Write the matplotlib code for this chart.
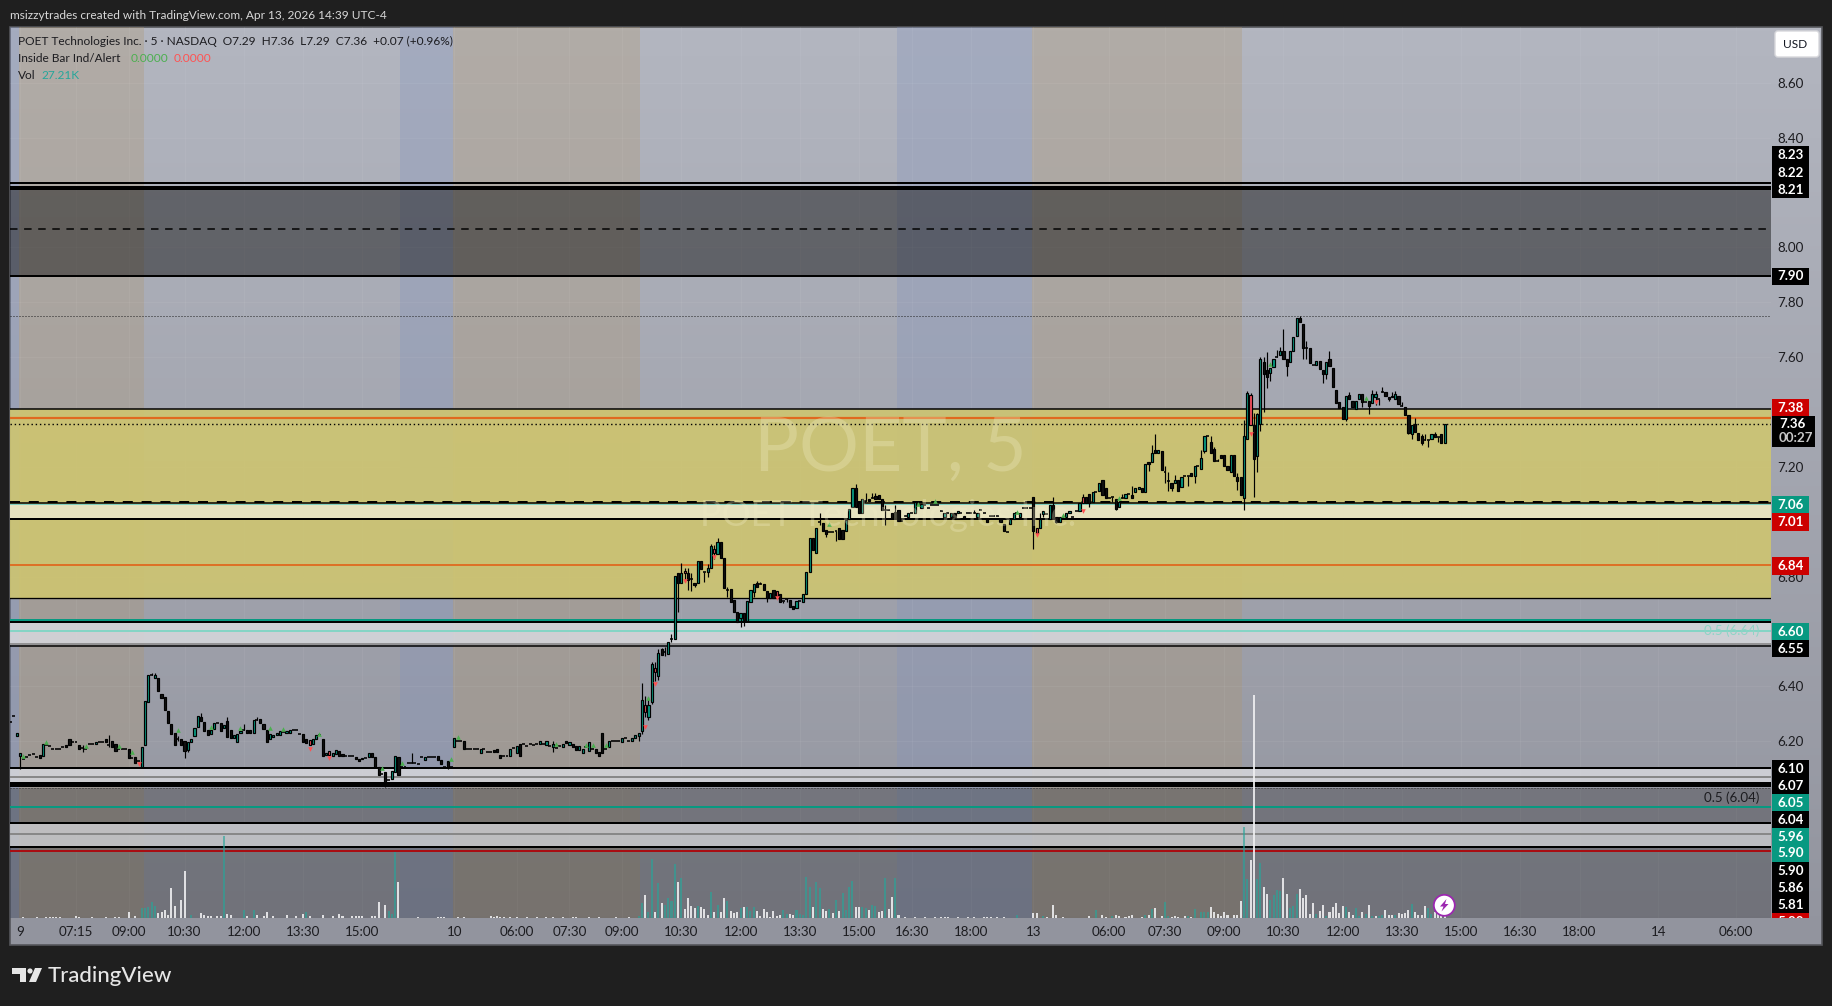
import numpy as np
import matplotlib
matplotlib.use("Agg")
import matplotlib.pyplot as plt
from matplotlib.patches import Rectangle, FancyBboxPatch, Circle, Polygon

plt.rcParams['font.family'] = ['Lato', 'DejaVu Sans']

# ---------- candle bodies: (open, close), a plain number is a doji dash ----------
session_apr9 = [6.269, 6.291, (6.220, 6.230), (6.146, 6.158), 6.134, 6.141, 6.149, 6.155, 6.141, (6.149, 6.140),
    (6.146, 6.189), 6.185, 6.184, 6.170, 6.170, 6.172, 6.180, (6.187, 6.180), (6.207, 6.187), 6.198,
    6.199, (6.187, 6.170), 6.174, 6.170, 6.189, 6.189, (6.190, 6.198), 6.198, 6.198, (6.210, 6.198),
    6.186, (6.200, 6.180), (6.190, 6.166), 6.172, 6.172, 6.170, (6.170, 6.138), 6.138, (6.144, 6.119), 6.129,
    (6.107, 6.180), (6.187, 6.348), (6.342, 6.441), 6.441, (6.429, 6.441), (6.429, 6.383), (6.371, 6.356), (6.360, 6.314), (6.310, 6.268), (6.262, 6.226),
    (6.229, 6.186), 6.210, (6.209, 6.186), (6.202, 6.166), (6.168, 6.198), (6.198, 6.210), (6.220, 6.249), (6.253, 6.293), (6.289, 6.274), (6.269, 6.238),
    (6.242, 6.223), (6.225, 6.240), (6.243, 6.265), 6.265, (6.265, 6.238), (6.249, 6.259), (6.275, 6.214), (6.240, 6.213), (6.213, 6.221), (6.198, 6.228),
    (6.229, 6.238), 6.241, (6.240, 6.229), (6.240, 6.229), (6.229, 6.277), 6.277, (6.280, 6.265), (6.262, 6.243), (6.241, 6.198), (6.210, 6.226),
    (6.214, 6.221), (6.221, 6.229), (6.224, 6.236), 6.234, (6.229, 6.238), (6.229, 6.241), 6.241, 6.240, 6.228, (6.226, 6.198),
    (6.208, 6.192), (6.204, 6.185), (6.190, 6.207), (6.209, 6.221), 6.221, (6.210, 6.147), (6.149, 6.158), (6.165, 6.150), (6.147, 6.156), (6.155, 6.167),
    (6.166, 6.147), (6.153, 6.145), 6.146, 6.147, 6.147, (6.141, 6.134), (6.136, 6.129), (6.134, 6.140), 6.140, (6.144, 6.156),
    (6.156, 6.141), (6.141, 6.107), (6.107, 6.077), 6.079, (6.089, 6.050), 6.059, (6.061, 6.090), (6.089, 6.146), (6.141, 6.078), 6.107,
    6.107, 6.119, 6.119, 6.119, 6.118, 6.141, (6.130, 6.141), 6.141, 6.141, 6.141,
    (6.147, 6.130), (6.131, 6.118), 6.107, (6.129, 6.107), 6.107]

session_apr10 = [(6.180, 6.211), 6.200, 6.200, (6.201, 6.171), 6.171, 6.171, 6.171, 6.171, (6.158, 6.171), 6.171,
    6.160, 6.160, (6.168, 6.160), (6.171, 6.160), (6.150, 6.140), 6.145, 6.145, (6.147, 6.171), 6.174, (6.158, 6.181),
    (6.189, 6.147), 6.189, 6.181, 6.189, 6.185, 6.189, (6.189, 6.200), 6.189, (6.186, 6.200), 6.181,
    (6.180, 6.190), 6.174, 6.181, (6.180, 6.189), (6.200, 6.192), (6.188, 6.196), (6.190, 6.180), (6.183, 6.169), (6.169, 6.181), (6.158, 6.171),
    6.180, (6.166, 6.198), 6.173, (6.171, 6.158), (6.160, 6.147), (6.229, 6.158), 6.171, (6.180, 6.200), 6.200, 6.200,
    6.200, (6.198, 6.211), 6.211, 6.200, (6.200, 6.211), (6.211, 6.222), (6.220, 6.229), (6.239, 6.350), (6.331, 6.308), (6.287, 6.331),
    (6.342, 6.482), (6.468, 6.454), (6.439, 6.520), (6.535, 6.514), 6.527, (6.518, 6.561), 6.572, (6.572, 6.802), (6.812, 6.776), (6.776, 6.812),
    (6.812, 6.821), (6.812, 6.788), 6.791, (6.778, 6.770), (6.778, 6.858), (6.858, 6.828), 6.818, (6.818, 6.832), (6.833, 6.912), (6.901, 6.887),
    (6.883, 6.925), (6.925, 6.868), (6.867, 6.760), 6.751, (6.754, 6.709), (6.715, 6.671), (6.671, 6.636), (6.650, 6.666), (6.669, 6.642), (6.640, 6.711),
    (6.709, 6.751), (6.744, 6.772), (6.776, 6.763), 6.772, (6.773, 6.751), (6.749, 6.721), (6.721, 6.739), (6.751, 6.721), (6.746, 6.731), (6.736, 6.708),
    6.710, 6.717, (6.714, 6.691), (6.693, 6.681), (6.685, 6.711), 6.710, (6.709, 6.736), (6.738, 6.817), (6.818, 6.940), (6.939, 6.897),
    (6.887, 6.979), 6.998, (6.994, 6.967), (6.970, 6.954), 6.964, 6.964, 6.966, (6.979, 6.938), (6.970, 6.938), (6.967, 7.006),
    (7.009, 7.046), (7.055, 7.122), (7.122, 7.055), (7.069, 7.031), (7.031, 7.082), 7.077, (7.083, 7.077), 7.085, (7.094, 7.082), (7.097, 7.083),
    (7.083, 7.043), 7.043, 7.043, (7.031, 7.012), (7.034, 7.012), (7.043, 7.004), 7.001, 7.020, (7.018, 7.031), 7.031,
    (7.031, 7.071), 7.061, (7.049, 7.065), 7.061, 7.049, 7.062, 7.062, 7.062, 7.040, (7.018, 7.031),
    7.031, (7.018, 7.031), (7.031, 7.018), (7.031, 7.040), 7.031, (7.021, 7.014), 7.031, 7.031, 7.031, (7.018, 7.031),
    7.043, 7.031, (7.009, 7.000), 7.021, 7.021, 7.021, (7.009, 7.000), (6.992, 6.966), 6.961, (6.990, 7.009),
    (7.009, 7.031), 7.031, (7.018, 7.031), 7.049, 7.049, 7.049]

session_apr13 = [(7.089, 6.967), (6.979, 6.960), (6.978, 7.009), (7.028, 7.040), 7.030, (7.009, 7.061), (7.061, 7.018), (7.016, 7.000), (7.000, 7.016), 7.018,
    (7.018, 7.031), (7.031, 7.040), 7.018, 7.040, (7.040, 7.069), (7.069, 7.089), (7.089, 7.069), (7.101, 7.069), (7.071, 7.109), 7.109,
    (7.113, 7.140), (7.152, 7.097), (7.122, 7.088), 7.088, 7.089, (7.082, 7.046), (7.055, 7.071), 7.085, (7.088, 7.100), 7.100,
    (7.098, 7.088), (7.109, 7.122), (7.119, 7.128), (7.122, 7.109), (7.109, 7.210), (7.219, 7.209), (7.219, 7.249), (7.261, 7.249), (7.249, 7.261), (7.258, 7.188),
    7.180, 7.150, (7.140, 7.124), (7.140, 7.151), (7.151, 7.113), (7.128, 7.162), 7.168, 7.168, (7.178, 7.168), (7.168, 7.203),
    7.203, (7.191, 7.232), (7.259, 7.311), 7.312, (7.289, 7.249), (7.264, 7.220), 7.220, (7.242, 7.233), (7.242, 7.204), (7.204, 7.190),
    (7.180, 7.242), (7.242, 7.168), (7.162, 7.150), (7.162, 7.099), (7.088, 7.312), (7.300, 7.470), (7.461, 7.351), (7.351, 7.230), (7.241, 7.391), (7.356, 7.592),
    (7.582, 7.538), (7.554, 7.526), (7.541, 7.559), (7.565, 7.592), 7.599, (7.608, 7.622), (7.623, 7.592), (7.592, 7.569), (7.581, 7.622), (7.622, 7.672),
    (7.678, 7.741), (7.741, 7.729), (7.721, 7.634), 7.633, (7.632, 7.580), 7.571, (7.571, 7.584), (7.584, 7.555), (7.553, 7.538), (7.538, 7.582),
    (7.592, 7.569), (7.559, 7.490), (7.480, 7.431), (7.435, 7.413), (7.419, 7.374), (7.374, 7.457), (7.461, 7.448), (7.439, 7.419), (7.410, 7.439), (7.448, 7.465),
    (7.465, 7.435), 7.438, (7.439, 7.423), (7.431, 7.464), (7.456, 7.464), 7.448, 7.474, (7.474, 7.459), (7.455, 7.448), (7.453, 7.459),
    (7.448, 7.464), (7.459, 7.429), 7.422, (7.417, 7.390), (7.390, 7.325), (7.318, 7.351), (7.355, 7.328), (7.325, 7.298), (7.312, 7.288), 7.298,
    7.298, (7.301, 7.318), (7.318, 7.310), 7.310, (7.318, 7.286), (7.288, 7.355)]

# wicks that reach beyond the candle body, by bar number
wick_highs = {22: 6.186, 30: 6.221, 43: 6.450, 44: 6.450, 51: 6.220, 58: 6.304, 66: 6.289, 71: 6.262, 75: 6.289, 122: 6.158,
    165: 6.201, 192: 6.414, 193: 6.365, 194: 6.360, 195: 6.490, 196: 6.490, 197: 6.537, 198: 6.539, 199: 6.545, 201: 6.591,
    204: 6.849, 205: 6.830, 206: 6.830, 207: 6.814, 212: 6.845, 213: 6.919, 214: 6.915, 215: 6.940, 218: 6.761, 227: 6.784,
    228: 6.782, 236: 6.722, 246: 7.031, 257: 7.137, 260: 7.103, 262: 7.103, 263: 7.103, 266: 7.061, 269: 7.061, 293: 7.043,
    313: 7.031, 317: 7.089, 326: 7.101, 338: 7.100, 341: 7.130, 346: 7.219, 347: 7.280, 348: 7.318, 351: 7.203, 352: 7.180,
    354: 7.170, 362: 7.261, 365: 7.312, 366: 7.271, 367: 7.228, 373: 7.176, 375: 7.371, 376: 7.478, 377: 7.470, 378: 7.397,
    379: 7.397, 380: 7.599, 381: 7.599, 382: 7.620, 385: 7.626, 386: 7.637, 387: 7.701, 392: 7.748, 394: 7.660, 401: 7.622,
    407: 7.474, 414: 7.480, 415: 7.476, 417: 7.490, 420: 7.474, 421: 7.476, 423: 7.438, 427: 7.379, 429: 7.320, 430: 7.320, 433: 7.327}
wick_lows = {3: 6.100, 22: 6.162, 30: 6.180, 51: 6.200, 53: 6.138, 54: 6.160, 114: 6.034, 133: 6.100,
    165: 6.162, 191: 6.201, 192: 6.225, 193: 6.287, 194: 6.277, 195: 6.336, 196: 6.420, 197: 6.423, 199: 6.510, 201: 6.563,
    203: 6.672, 205: 6.782, 206: 6.751, 207: 6.748, 208: 6.763, 211: 6.782, 212: 6.800, 214: 6.864, 218: 6.727, 222: 6.618,
    223: 6.621, 226: 6.727, 230: 6.709, 235: 6.703, 236: 6.708, 246: 6.988, 248: 6.943, 251: 6.931, 266: 6.988, 311: 6.900,
    314: 7.018, 318: 6.994, 328: 7.052, 335: 7.073, 336: 7.043, 346: 7.186, 351: 7.142, 352: 7.113, 353: 7.113, 358: 7.131,
    360: 7.142, 363: 7.252, 373: 7.116, 375: 7.043, 378: 7.091, 379: 7.182, 380: 7.332, 381: 7.401, 382: 7.489, 383: 7.513,
    388: 7.531, 393: 7.594, 394: 7.594, 399: 7.504, 400: 7.521, 406: 7.368, 411: 7.419, 413: 7.393, 415: 7.425, 416: 7.425,
    419: 7.441, 425: 7.320, 426: 7.300, 429: 7.278, 431: 7.273, 434: 7.292}
inside_bars_red = [91, 97, 193, 196, 205, 214, 233, 312, 326, 377]

# inside-bar indicator markers: bar number, price
alert_up_bars = [4, 11, 23, 33, 37, 51, 61, 70, 79, 83, 94, 113, 119, 134, 136, 166, 175, 177, 181, 194, 249, 276, 281, 306, 320, 337, 383, 412]
alert_up_prices = [6.147, 6.199, 6.184, 6.184, 6.162, 6.240, 6.253, 6.249, 6.249, 6.243, 6.227, 6.104, 6.122, 6.134, 6.214, 6.189, 6.185, 6.185, 6.185, 6.356, 6.990, 7.065, 7.075, 7.034, 7.023, 7.085, 7.574, 7.452]
alert_down_bars = [39, 91, 97, 193, 196, 205, 214, 233, 312, 326, 377, 415]
alert_down_prices = [6.118, 6.172, 6.138, 6.253, 6.410, 6.785, 6.873, 6.723, 6.952, 7.039, 7.320, 7.436]

# volume in thousands, by bar number
volume_up = {40: 40, 41: 40, 42: 44, 43: 64, 44: 48, 55: 12, 65: 328, 71: 32, 74: 32, 90: 24, 115: 28, 116: 16, 117: 264,
    191: 8, 192: 60, 194: 24, 195: 236, 197: 140, 199: 52, 200: 80, 201: 68, 202: 216, 204: 160, 209: 48, 213: 104, 215: 52, 218: 68,
    222: 40, 224: 44, 225: 28, 226: 44, 235: 32, 236: 16, 239: 32, 240: 16, 241: 12, 242: 164, 243: 124, 245: 144, 246: 120, 249: 36,
    251: 72, 253: 100, 254: 32, 255: 124, 256: 148, 259: 44, 260: 40, 262: 52, 263: 48, 266: 160, 269: 160, 306: 12, 314: 8, 330: 32, 335: 8,
    345: 12, 347: 36, 351: 64, 352: 8, 358: 8, 360: 36, 362: 24, 363: 24, 364: 24, 375: 364, 376: 156, 379: 156, 380: 220, 383: 72, 384: 92,
    385: 112, 386: 108, 389: 40, 390: 48, 391: 96, 397: 16, 400: 8, 406: 44, 409: 40, 410: 8, 412: 16, 414: 8, 416: 8, 417: 12, 421: 12,
    426: 56, 431: 40, 432: 16}
volume_down = {4: 4, 8: 4, 11: 4, 12: 4, 13: 4, 14: 4, 15: 4, 20: 8, 21: 4, 25: 4, 29: 4, 32: 6, 33: 6, 36: 24, 38: 8, 45: 20, 46: 24, 47: 32, 48: 12, 49: 120, 50: 48,
    52: 72, 53: 188, 58: 20, 59: 12, 60: 8, 61: 8, 63: 8, 64: 8, 66: 16, 67: 12, 72: 8, 75: 12, 77: 8, 78: 24, 80: 8, 84: 12, 87: 8, 89: 16, 91: 8, 95: 12, 98: 8,
    100: 16, 101: 8, 104: 8, 105: 8, 106: 8, 107: 8, 110: 8, 111: 8, 112: 64, 114: 52, 118: 144, 124: 4, 130: 4, 131: 4, 132: 4, 136: 4, 138: 4,
    146: 8, 147: 6, 148: 8, 149: 6, 150: 4, 152: 4, 154: 4, 157: 4, 160: 4, 163: 4, 165: 4, 168: 4, 171: 6, 172: 6, 176: 4, 179: 4, 184: 4, 188: 4,
    193: 92, 196: 24, 198: 60, 203: 144, 205: 36, 206: 80, 207: 48, 208: 40, 210: 44, 211: 36, 212: 12, 214: 24, 216: 24, 217: 80, 219: 28, 220: 20, 221: 24,
    223: 44, 227: 28, 228: 8, 229: 36, 230: 24, 231: 4, 232: 28, 233: 8, 234: 12, 237: 16, 238: 12, 244: 44, 247: 36, 248: 28, 250: 20, 252: 28, 257: 44, 258: 44,
    261: 32, 264: 24, 265: 28, 267: 36, 268: 84, 270: 12, 272: 4, 275: 4, 278: 4, 281: 4, 283: 4, 284: 4, 285: 4, 288: 4, 291: 4, 293: 4, 296: 4, 297: 4, 298: 4, 300: 4, 302: 4,
    311: 20, 312: 20, 315: 4, 317: 52, 318: 12, 320: 4, 328: 8, 332: 12, 333: 4, 336: 12, 337: 8, 339: 4, 340: 8, 341: 12, 344: 4, 346: 12, 348: 40, 350: 8,
    353: 4, 354: 8, 355: 4, 357: 8, 359: 4, 365: 44, 366: 24, 367: 16, 368: 8, 369: 24, 370: 12, 372: 12, 373: 12, 374: 68, 377: 232, 378: 892, 381: 124, 382: 96,
    387: 160, 388: 96, 392: 116, 393: 80, 394: 92, 395: 16, 396: 60, 398: 28, 399: 52, 401: 24, 402: 44, 403: 60, 404: 20, 405: 48, 407: 24, 408: 12, 411: 24, 413: 52,
    415: 8, 418: 32, 419: 12, 420: 12, 422: 20, 423: 16, 424: 20, 425: 32, 427: 24, 428: 12, 429: 12, 430: 48, 433: 24, 434: 24, 435: 16, 436: 27.21}

# axis labels
time_tick_bars = [3, 20, 36, 53, 71, 89, 107, 135, 154, 170, 186, 204, 222, 240, 258, 274, 292, 311, 334, 351, 369, 387, 405, 423, 441, 459, 477, 501, 524.5]
time_tick_labels = ['9', '07:15', '09:00', '10:30', '12:00', '13:30', '15:00', '10', '06:00', '07:30', '09:00', '10:30', '12:00', '13:30', '15:00', '16:30', '18:00',
                    '13', '06:00', '07:30', '09:00', '10:30', '12:00', '13:30', '15:00', '16:30', '18:00', '14', '06:00']
price_ticks = [8.6, 8.4, 8.0, 7.8, 7.6, 7.2, 6.8, 6.4, 6.2]

# price-level lines: price, colour, width in px, style
level_lines = [(8.233, 'black', 2, '-'), (8.217, 'black', 4, '-'), (8.067, 'black', 1.5, (0, (5, 4.4))), (7.896, 'black', 2, '-'),
    (7.749, '#222222', 1, (0, (1, 2))), (7.41, 'black', 1.5, '-'), (7.379, '#e0691f', 2.2, '-'), (7.355, 'black', 1.4, (0, (1, 2))),
    (7.070, 'black', 1.5, '-'), (7.073, 'black', 2, (0, (5, 4.4))), (7.063, '#7fcfc0', 1, '-'), (7.01, 'black', 2, '-'), (6.842, '#e0691f', 1.8, '-'),
    (6.721, 'black', 1.3, '-'), (6.642, '#089981', 2, '-'), (6.635, 'black', 2, '-'), (6.603, '#85d4c5', 2, '-'), (6.553, '#808080', 1.5, '-'), (6.548, 'black', 1.5, '-'),
    (6.104, 'black', 2, '-'), (6.071, '#888888', 2, '-'), (6.043, 'black', 5, '-'), (6.030, '#333333', 1, (0, (1, 2))), (5.961, '#089981', 2, '-'),
    (5.903, 'black', 2, '-'), (5.863, '#888888', 2, '-'), (5.815, 'black', 2, '-'), (5.801, '#a80d12', 2, '-')]
# price zones: top, bottom, colour, alpha
price_zones = [(8.217, 7.896, 'black', 0.43), (7.41, 6.721, '#cfc66f', 0.88), (7.063, 7.01, '#e8e4c4', 0.95),
    (6.635, 6.55, '#d6d7dc', 0.88), (6.104, 6.043, '#d6d7dc', 0.85), (6.03, 5.50, 'black', 0.23), (5.903, 5.815, '#d2d3d6', 0.78)]
# session tints: first bar edge, last bar edge, kind
session_tints = [(-0.1, 2.7, 'post'), (2.7, 40.7, 'pre'), (118.5, 134.5, 'post'), (134.5, 191.5, 'pre'), (269.5, 310.5, 'post'), (310.5, 374.3, 'pre')]
tint_colors = {'pre': '#ae966e', 'post': '#8293be'}

# right-hand labels: text, vertical pixel centre, colour
scale_badges = [('8.23', 155, 'black'), ('8.22', 172.5, 'black'), ('8.21', 189.5, 'black'), ('7.90', 276.5, 'black'), ('7.38', 407.5, 'red'),
    ('7.06', 505, 'teal'), ('7.01', 522, 'red'), ('6.84', 566, 'red'), ('6.60', 631.5, 'teal'), ('6.55', 648.7, 'black'), ('6.10', 768.7, 'black'),
    ('6.07', 786, 'black'), ('6.05', 802.7, 'teal'), ('6.04', 819.7, 'black'), ('5.96', 836.7, 'teal'), ('5.90', 853.3, 'teal'), ('5.90', 870.7, 'black'),
    ('5.86', 887.7, 'black'), ('5.81', 904.7, 'black'), ('5.80', 921.7, 'red')]
badge_colors = {'black': '#000000', 'red': '#cc0000', 'teal': '#089981'}

# ---------- assemble ----------
bars = session_apr9 + session_apr10 + session_apr13
opens = np.array([b[0] if isinstance(b, tuple) else b for b in bars])
closes = np.array([b[1] if isinstance(b, tuple) else b for b in bars])
idx = np.arange(len(bars))
highs = np.maximum(opens, closes)
lows = np.minimum(opens, closes)
for k, v in wick_highs.items():
    highs[k] = max(highs[k], v)
for k, v in wick_lows.items():
    lows[k] = min(lows[k], v)

W, H = 1833, 1006
fig = plt.figure(figsize=(W / 100, H / 100), dpi=100, facecolor='#1f1f1f')
L, R, T, B = 10.5, 1771, 27, 918
PXPT = 0.72

# panel background
bg = fig.add_axes([0, 0, 1, 1])
bg.set_xlim(0, W); bg.set_ylim(H, 0); bg.axis('off')
top_c = np.array([179, 182, 192]) / 255
bot_c = np.array([146, 148, 158]) / 255
grad = np.linspace(0, 1, 256)[:, None, None] * (bot_c - top_c) + top_c
bg.imshow(grad, extent=(10, 1822, 945, 27), aspect='auto', zorder=0)
bg.set_xlim(0, W); bg.set_ylim(H, 0)
bg.add_patch(Rectangle((10, 27), 1812, 918, fill=False, ec='#55565b', lw=1.2, zorder=2))

# price axes
rect = [L / W, 1 - B / H, (R - L) / W, (B - T) / H]
ax = fig.add_axes(rect)
ax.patch.set_alpha(0)
ax.set_xlim((L - 10.2) / 3.29, (R - 10.2) / 3.29)
ymin = 8.6 - (B - 82.7) / 274.4
ymax = 8.6 - (T - 82.7) / 274.4
ax.set_ylim(ymin, ymax)
for s in ax.spines.values():
    s.set_visible(False)
ax.yaxis.tick_right()
ax.set_yticks(price_ticks, [f'{p:.2f}' for p in price_ticks])
ax.set_xticks(time_tick_bars, time_tick_labels)
ax.tick_params(axis='y', length=0, pad=4.6, labelsize=9.6, labelcolor='#1c1c20')
ax.tick_params(axis='x', length=0, pad=5.5, labelsize=9.6, labelcolor='#1c1c20')
ax.grid(True, color='white', alpha=0.05, lw=0.7)
ax.set_axisbelow(True)

for a, b, kind in session_tints:
    ax.axvspan(a, b, color=tint_colors[kind], alpha=0.3, lw=0, zorder=0.5)
for top, bottom, c, al in price_zones:
    ax.axhspan(bottom, top, color=c, alpha=al, lw=0, zorder=1)
for p, c, w, st in level_lines:
    ax.axhline(p, color=c, lw=w * PXPT, ls=st, zorder=2)

# candles
ax.vlines(idx, lows, highs, color='black', lw=0.85, zorder=4)
is_dash = opens == closes
is_red = np.isin(idx, inside_bars_red)
face = np.where(is_red, '#f7525f', np.where(closes > opens, '#089981', '#111111'))
body = ~is_dash
ax.bar(idx[body], np.abs(closes - opens)[body], bottom=np.minimum(opens, closes)[body], width=0.66,
       color=face[body], edgecolor='black', lw=0.85, zorder=5)
ax.hlines(closes[is_dash], idx[is_dash] - 0.45, idx[is_dash] + 0.45, color='black', lw=1.15, zorder=5)

ax.scatter(alert_up_bars, alert_up_prices, marker='^', s=11, color='#4caf50', lw=0, zorder=6)
ax.scatter(alert_down_bars, alert_down_prices, marker='v', s=11, color='#ff5252', lw=0, zorder=6)

ax.text(0.9935, 6.603, '0.5 (6.64)', transform=ax.get_yaxis_transform(), ha='right', va='center', fontsize=9.6, color='#8ed4c6', zorder=3)
ax.text(0.9935, 5.995, '0.5 (6.04)', transform=ax.get_yaxis_transform(), ha='right', va='center', fontsize=9.6, color='#1c1c20', zorder=3)

# volume pane shares the bar axis
vax = fig.add_axes(rect, sharex=ax)
vax.patch.set_alpha(0)
vax.axis('off')
vax.set_ylim(0, 3564)
vax.bar(list(volume_up), list(volume_up.values()), width=0.62, color='#26a69a', alpha=0.62, lw=0)
vax.bar(list(volume_down), list(volume_down.values()), width=0.62, color='#f0f0f2', alpha=0.88, lw=0)

# chrome and text in pixel space
ov = fig.add_axes([0, 0, 1, 1])
ov.patch.set_alpha(0)
ov.set_xlim(0, W); ov.set_ylim(H, 0); ov.axis('off')
TXT = '#1c1c20'
ov.text(890, 449, 'POET, 5', ha='center', va='center', fontsize=54, color='#f3efc8', alpha=0.3, zorder=1.5)
ov.text(888, 515, 'POET Technologies Inc.', ha='center', va='center', fontsize=26, color='#f3efc8', alpha=0.3, zorder=1.5)
ov.text(10, 15, 'msizzytrades created with TradingView.com, Apr 13, 2026 14:39 UTC-4', va='center', fontsize=8.6, color='#d8d8d8')
ov.text(18, 41.7, 'POET Technologies Inc. · 5 · NASDAQ  O7.29  H7.36  L7.29  C7.36  +0.07 (+0.96%)', va='center', fontsize=8.55, color=TXT)
ov.text(18, 58.7, 'Inside Bar Ind/Alert', va='center', fontsize=8.6, color=TXT)
ov.text(131, 58.7, '0.0000', va='center', fontsize=8.6, color='#4caf50')
ov.text(174, 58.7, '0.0000', va='center', fontsize=8.6, color='#ff5252')
ov.text(18, 75.7, 'Vol', va='center', fontsize=8.6, color=TXT)
ov.text(41.5, 75.7, '27.21K', va='center', fontsize=8.6, color='#26a69a')

clip_box = Rectangle((1760, 0), 73, B, transform=ov.transData)
for txt, yc, c in scale_badges:
    badge = Rectangle((1772, yc - 8.7), 37, 17.4, fc=badge_colors[c], ec='none', zorder=3)
    ov.add_patch(badge)
    badge.set_clip_path(clip_box)
    label = ov.text(1790.5, yc, txt, ha='center', va='center', fontsize=9.6, fontweight='bold', color='white', zorder=4)
    label.set_clip_path(clip_box)
    label.set_clip_on(True)
ov.add_patch(Rectangle((1772, 416), 43, 31, fc='black', ec='none', zorder=3))
ov.text(1779, 424.5, '7.36', va='center', fontsize=9.6, fontweight='bold', color='white', zorder=4)
ov.text(1779, 438.5, '00:27', va='center', fontsize=9.6, fontweight='bold', color='#c8c8c8', zorder=4)

ov.add_patch(FancyBboxPatch((1776, 32), 42, 24, boxstyle='round,pad=1,rounding_size=3', fc='white', ec='#d8d8dc', lw=1, zorder=3))
ov.text(1795, 44.5, 'USD', ha='center', va='center', fontsize=8.6, color='#131722', zorder=4)

ov.add_patch(Circle((1444.3, 905.3), 10.5, fc='white', ec='#9c27b0', lw=1.3, zorder=5))
ov.add_patch(Polygon([(1446.5, 899), (1440, 906.5), (1443.5, 906.5), (1441.5, 911.5), (1448.5, 904), (1445, 904)], fc='#9c27b0', ec='none', zorder=6))

logo = '#e6e6e6'
ov.add_patch(Polygon([(12, 968), (26, 968), (26, 982), (20, 982), (20, 974), (12, 974)], fc=logo, ec='none'))
ov.add_patch(Circle((30, 971), 2.6, fc=logo, ec='none'))
ov.add_patch(Polygon([(35, 968), (42, 968), (36, 982), (29, 982)], fc=logo, ec='none'))
ov.text(48, 976, 'TradingView', va='center', fontsize=16, color=logo, fontweight='medium')

fig.savefig('out.png', dpi=100, facecolor=fig.get_facecolor())
